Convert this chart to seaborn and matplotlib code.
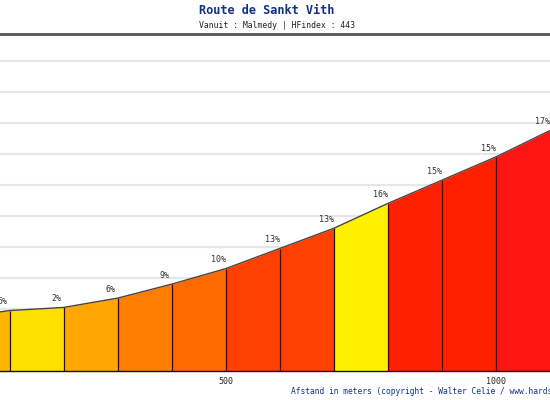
import numpy as np
import pandas as pd
import seaborn as sns
import matplotlib.pyplot as plt

sns.set_style('white')
plt.rcParams['font.family'] = ['DejaVu Sans Mono', 'DejaVu Sans']

# profiel: afstand (m), hoogte (m), stijging per 100 m
afstand = [0, 100, 200, 300, 400, 500, 600, 700, 800, 900, 1000, 1100]
hoogte = [374, 379, 381, 387, 396, 406, 419, 432, 448, 463, 478, 495]
stijging = [5, 2, 6, 9, 10, 13, 13, 16, 15, 15, 17]
kleuren = ['#ffb400', '#ffe100', '#ffa600', '#ff7d00', '#ff6a00', '#ff4000',
           '#ff4000', '#fff000', '#ff2000', '#ff2000', '#ff1414']
xticks = [500, 1000]
basis = 340

df = pd.DataFrame({'afstand': afstand, 'hoogte': hoogte})

fig = plt.figure(figsize=(5.5, 4), dpi=100)
ax = fig.add_axes([0, 29 / 400, 1, 337 / 400])

for i in range(len(stijging)):
    ax.fill_between(afstand[i:i + 2], hoogte[i:i + 2], basis, color=kleuren[i], lw=0, zorder=2)
    ax.annotate(f'{stijging[i]}%', (afstand[i + 1], hoogte[i + 1]), xytext=(-7, 9),
                textcoords='offset pixels', ha='center', va='center', fontsize=6, color='#333333')
ax.vlines(afstand[1:-1], basis, hoogte[1:-1], color='#111111', lw=0.9, zorder=3)
sns.lineplot(data=df, x='afstand', y='hoogte', color='#444444', lw=1, ax=ax, zorder=4)

ax.set_xlim(82.4, 1100.9)
ax.set_ylim(basis, basis + 337 / 1.55)
ax.set_yticks(range(basis, 560, 20))
ax.set_yticklabels([])
ax.yaxis.grid(True, color='#e6e6e6', lw=1.6)
ax.set_axisbelow(True)
ax.set_xticks(xticks)
ax.set_xticklabels([str(t) for t in xticks], fontsize=6, color='#222222')
ax.tick_params(axis='x', length=0, pad=4)
ax.tick_params(axis='y', length=0)
ax.set_xlabel('')
ax.set_ylabel('')
for s in ['left', 'right']:
    ax.spines[s].set_visible(False)
ax.spines['top'].set_color('#555555')
ax.spines['top'].set_linewidth(2)
ax.spines['bottom'].set_color('#111111')
ax.spines['bottom'].set_linewidth(1)

fig.text(199 / 550, 1 - 10 / 400, 'Route de Sankt Vith', fontsize=8.6, fontweight='bold',
         color='#10308a', ha='left', va='center')
fig.text(199 / 550, 1 - 25 / 400, 'Vanuit : Malmedy | HFindex : 443', fontsize=5.9,
         color='#222222', ha='left', va='center')
fig.text(291 / 550, 1 - 392 / 400, 'Afstand in meters (copyright - Walter Celie / www.hardsteklimmen.be)',
         fontsize=5.68, color='#10308a', ha='left', va='center')

plt.savefig('out.png', dpi=100)
